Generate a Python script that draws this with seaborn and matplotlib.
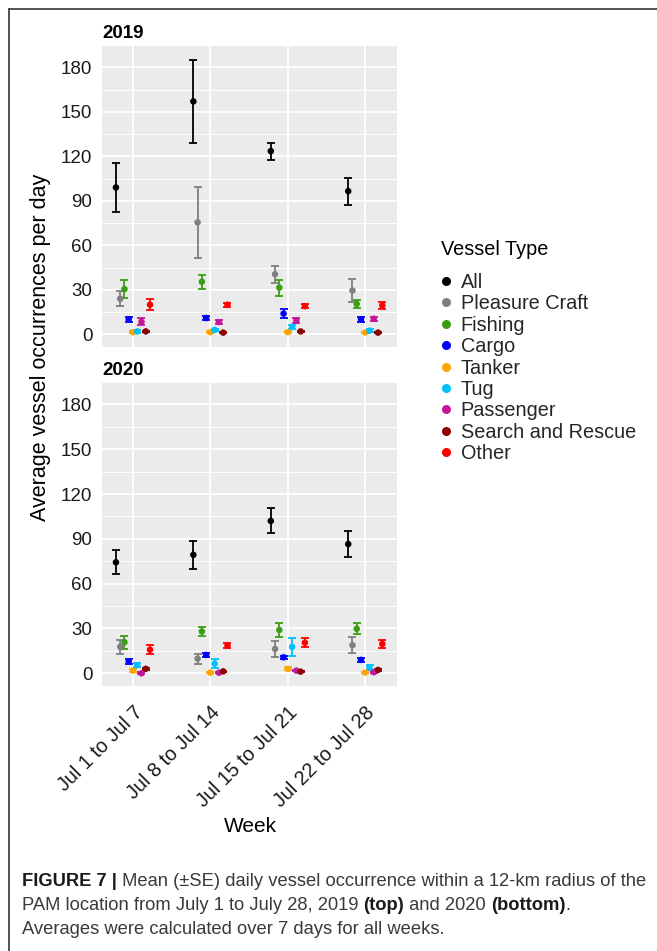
import numpy as np
import pandas as pd
import matplotlib
matplotlib.use("Agg")
import matplotlib.pyplot as plt
from matplotlib.lines import Line2D
from matplotlib import font_manager
from matplotlib.ticker import MultipleLocator
import seaborn as sns

# ---- data -------------------------------------------------------------
weeks = ["Jul 1 to Jul 7", "Jul 8 to Jul 14", "Jul 15 to Jul 21", "Jul 22 to Jul 28"]
vessel_types = ["All", "Pleasure Craft", "Fishing", "Cargo", "Tanker", "Tug",
                "Passenger", "Search and Rescue", "Other"]
type_colors = ["#000000", "#7F7F7F", "#3A9E12", "#0000FF", "#FFA500", "#00BFFF",
               "#C4169B", "#8B0000", "#FF0000"]

mean_2019 = {
    "All":               [99.0, 157.0, 123.5, 96.5],
    "Pleasure Craft":    [24.0, 75.5, 40.5, 29.5],
    "Fishing":           [30.5, 35.5, 31.5, 20.5],
    "Cargo":             [10.0, 11.0, 14.0, 10.0],
    "Tanker":            [1.5, 1.5, 1.5, 1.3],
    "Tug":               [2.0, 3.0, 5.0, 2.5],
    "Passenger":         [8.5, 8.3, 9.5, 10.5],
    "Search and Rescue": [2.0, 1.2, 2.0, 1.2],
    "Other":             [20.0, 20.0, 19.0, 19.5],
}
se_2019 = {
    "All":               [16.3, 28.0, 5.7, 9.2],
    "Pleasure Craft":    [5.0, 24.0, 5.6, 7.7],
    "Fishing":           [6.3, 4.7, 5.3, 2.6],
    "Cargo":             [1.5, 1.5, 3.0, 1.5],
    "Tanker":            [0.5, 0.5, 0.5, 0.5],
    "Tug":               [0.8, 0.8, 1.5, 0.8],
    "Passenger":         [2.5, 1.3, 1.5, 1.3],
    "Search and Rescue": [0.6, 0.5, 0.6, 0.5],
    "Other":             [3.7, 1.3, 1.5, 2.5],
}
mean_2020 = {
    "All":               [74.3, 79.3, 102.0, 86.5],
    "Pleasure Craft":    [17.7, 9.8, 16.3, 18.8],
    "Fishing":           [20.8, 28.0, 29.0, 29.8],
    "Cargo":             [8.0, 12.3, 10.7, 9.0],
    "Tanker":            [1.8, 0.4, 2.9, 0.5],
    "Tug":               [5.4, 6.5, 17.7, 3.8],
    "Passenger":         [0.0, 0.4, 1.8, 0.7],
    "Search and Rescue": [3.0, 1.3, 1.1, 2.3],
    "Other":             [15.8, 18.6, 20.5, 19.7],
}
se_2020 = {
    "All":               [8.0, 9.4, 8.4, 8.6],
    "Pleasure Craft":    [4.6, 3.4, 5.6, 5.4],
    "Fishing":           [4.4, 2.8, 4.9, 3.7],
    "Cargo":             [1.5, 1.5, 1.0, 1.3],
    "Tanker":            [1.0, 0.5, 1.0, 0.5],
    "Tug":               [1.5, 3.2, 5.8, 1.5],
    "Passenger":         [0.8, 0.5, 0.5, 0.5],
    "Search and Rescue": [0.8, 0.5, 0.5, 0.5],
    "Other":             [3.2, 1.5, 3.1, 2.9],
}
y_ticks = [0, 30, 60, 90, 120, 150, 180]

# ---- style ------------------------------------------------------------
sns.set_theme(style="darkgrid", rc={
    "axes.facecolor": "#EBEBEB",
    "grid.color": "white",
    "axes.edgecolor": "none",
})
available = {f.name for f in font_manager.fontManager.ttflist}
base_font = "Liberation Sans" if "Liberation Sans" in available else "DejaVu Sans"
plt.rcParams["font.family"] = [base_font, "DejaVu Sans"]

palette = dict(zip(vessel_types, type_colors))


def long_table(means, ses):
    rows = []
    for t in vessel_types:
        for w_i, w in enumerate(weeks):
            rows.append({"Week": w, "week_idx": w_i, "Vessel Type": t,
                         "type_idx": vessel_types.index(t),
                         "mean": means[t][w_i], "se": ses[t][w_i]})
    df = pd.DataFrame(rows)
    step = 0.055
    df["xpos"] = df["week_idx"] + (df["type_idx"] - (len(vessel_types) - 1) / 2) * step
    return df


df19 = long_table(mean_2019, se_2019)
df20 = long_table(mean_2020, se_2020)

W, H = 657, 951
fig = plt.figure(figsize=(W / 100, H / 100), dpi=100)


def px_axes(left, top, right, bottom):
    return fig.add_axes([left / W, 1 - bottom / H, (right - left) / W, (bottom - top) / H])


ax_top = px_axes(102, 45, 397, 347)
ax_bot = px_axes(102, 382, 397, 686)

for ax, df, year in [(ax_top, df19, "2019"), (ax_bot, df20, "2020")]:
    for t in vessel_types:
        sub = df[df["Vessel Type"] == t]
        ax.errorbar(sub["xpos"], sub["mean"], yerr=sub["se"], fmt="none",
                    ecolor=palette[t], elinewidth=1.3, capsize=2.6, capthick=1.3,
                    zorder=3)
    sns.scatterplot(data=df, x="xpos", y="mean", hue="Vessel Type",
                    hue_order=vessel_types, palette=palette, s=22,
                    linewidth=0, legend=False, ax=ax, zorder=4)
    ax.set_xlim(-0.4, 3.41)
    ax.set_ylim(-8.5, 195)
    ax.set_yticks(y_ticks)
    ax.set_yticklabels([str(v) for v in y_ticks])
    ax.yaxis.set_minor_locator(MultipleLocator(15))
    ax.set_xticks(range(len(weeks)))
    ax.grid(True, which="major", color="white", linewidth=1.3)
    ax.grid(True, which="minor", axis="y", color="white", linewidth=0.7)
    ax.tick_params(axis="both", which="major", length=5, width=1.3,
                   color="#333333", labelsize=13.5, labelcolor="#1A1A1A", pad=2)
    ax.tick_params(axis="both", which="minor", length=0)
    ax.set_xlabel("")
    ax.set_ylabel("")
    for s in ax.spines.values():
        s.set_visible(False)
    ax.text(0.0, 1.01, year, transform=ax.transAxes, ha="left", va="bottom",
            fontsize=13.5, fontweight="bold", color="#000000")

ax_top.set_xticklabels([])
ax_bot.set_xticklabels(weeks, rotation=45, ha="right", va="top",
                       rotation_mode="anchor", fontsize=14.3)
ax_bot.tick_params(axis="x", which="major", pad=7)

fig.text(41 / W, 1 - 347 / H, "Average vessel occurrences per day", rotation=90,
         ha="center", va="center", fontsize=15.5, color="#000000")
fig.text(250 / W, 1 - 826 / H, "Week", ha="center", va="center",
         fontsize=15, color="#000000")

# legend: title placed separately so its gap to the keys can be set
fig.text(441 / W, 1 - 250 / H, "Vessel Type", ha="left", va="center",
         fontsize=14.3, color="#000000")
handles = [Line2D([], [], marker="o", linestyle="none", markersize=6.5,
                  markerfacecolor=c, markeredgewidth=0) for c in type_colors]
leg = fig.legend(handles, vessel_types,
                 loc="upper left", bbox_to_anchor=(438 / W, 1 - 273 / H),
                 frameon=False, fontsize=14.3,
                 handlelength=0.8, handletextpad=0.35,
                 labelspacing=0.12, borderaxespad=0, borderpad=0)

# frame around the figure panel
fig.add_artist(Line2D([8.5 / W, 8.5 / W], [1 - 8.5 / H, 0], transform=fig.transFigure,
                      color="#333333", linewidth=1.2))
fig.add_artist(Line2D([8.5 / W, 1], [1 - 8.5 / H, 1 - 8.5 / H], transform=fig.transFigure,
                      color="#333333", linewidth=1.2))

# caption with mixed weights, sized so the first line spans the text width
cap_font = "Liberation Sans Narrow" if "Liberation Sans Narrow" in available else base_font
caption_lines = [
    [("FIGURE 7 |", "bold", "#1A1A1A"),
     (" Mean (\u00b1SE) daily vessel occurrence within a 12-km radius of the", "normal", "#3A3A3A")],
    [("PAM location from July 1 to July 28, 2019 ", "normal", "#3A3A3A"),
     ("(top)", "bold", "#1A1A1A"),
     (" and 2020 ", "normal", "#3A3A3A"),
     ("(bottom)", "bold", "#1A1A1A"),
     (".", "normal", "#3A3A3A")],
    [("Averages were calculated over 7 days for all weeks.", "normal", "#3A3A3A")],
]
line_y = [881, 906, 930]
renderer = fig.canvas.get_renderer()


def line_width(pieces, size):
    total = 0
    for txt, weight, col in pieces:
        t = fig.text(0, 0, txt, fontsize=size, fontweight=weight,
                     family=[cap_font, "DejaVu Sans"])
        total += t.get_window_extent(renderer).width
        t.remove()
    return total


probe = 10.0
cap_size = probe * 626 / line_width(caption_lines[0], probe)

for pieces, yy in zip(caption_lines, line_y):
    x = 22
    for txt, weight, col in pieces:
        t = fig.text(x / W, 1 - yy / H, txt, ha="left", va="center",
                     fontsize=cap_size, fontweight=weight, color=col,
                     family=[cap_font, "DejaVu Sans"])
        x += t.get_window_extent(renderer).width

fig.savefig("out.png", dpi=100)
